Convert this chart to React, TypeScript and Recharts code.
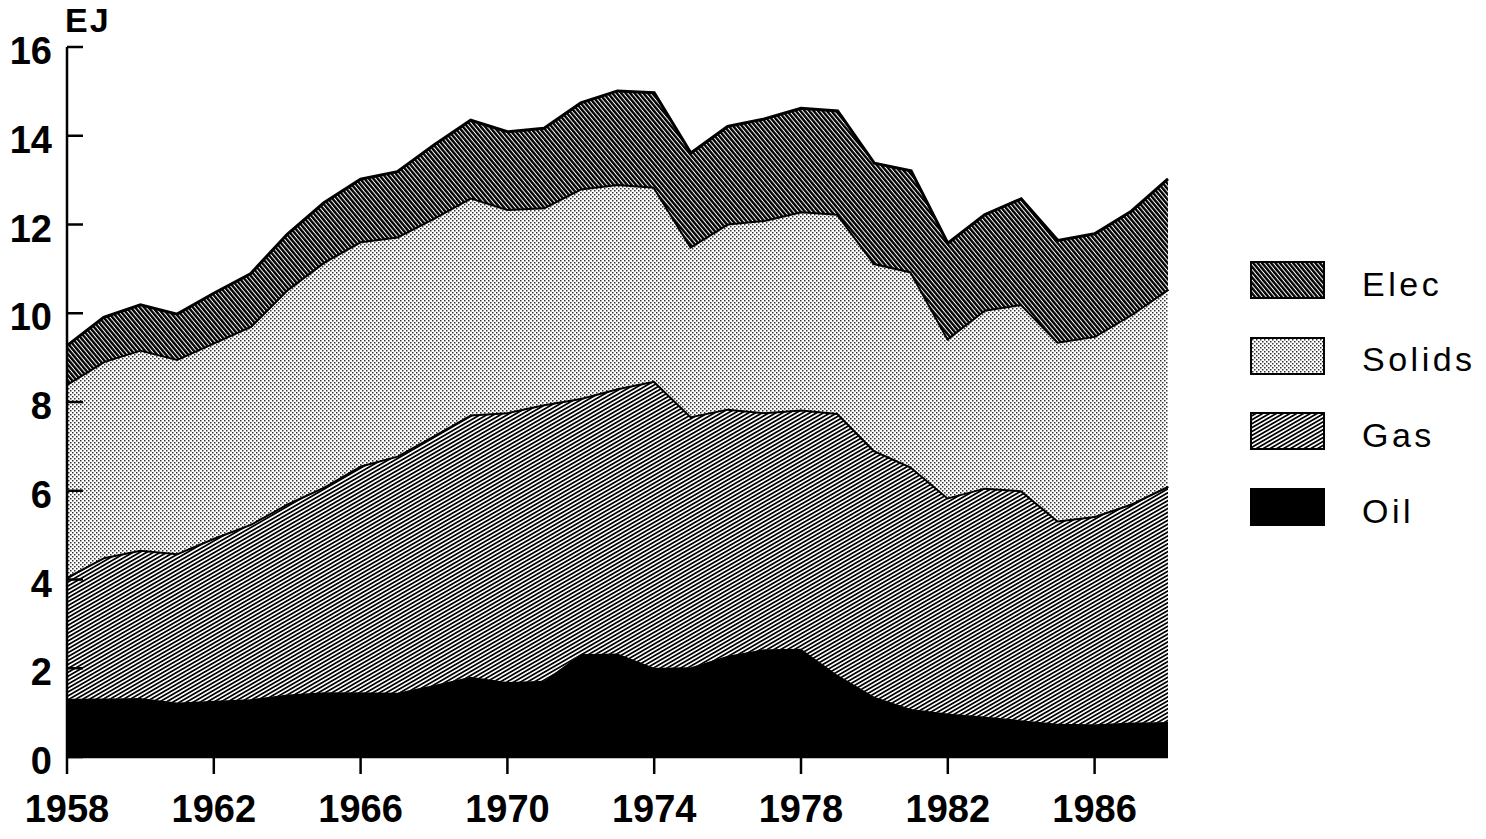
import React from 'react';
import { AreaChart, Area, XAxis, YAxis } from 'recharts';

// final energy use by fuel, EJ
const years = [
  1958, 1959, 1960, 1961, 1962, 1963, 1964, 1965, 1966, 1967, 1968,
  1969, 1970, 1971, 1972, 1973, 1974, 1975, 1976, 1977, 1978, 1979,
  1980, 1981, 1982, 1983, 1984, 1985, 1986, 1987, 1988,
];
const oil = [
  1.31, 1.32, 1.33, 1.23, 1.27, 1.3, 1.41, 1.46, 1.46, 1.45, 1.62,
  1.81, 1.69, 1.72, 2.32, 2.33, 2.01, 2.02, 2.28, 2.43, 2.44, 1.85,
  1.36, 1.08, 0.98, 0.91, 0.83, 0.75, 0.74, 0.78, 0.79,
];
const gas = [
  2.75, 3.18, 3.34, 3.36, 3.67, 3.95, 4.3, 4.63, 5.11, 5.34, 5.63,
  5.91, 6.08, 6.23, 5.77, 5.98, 6.47, 5.66, 5.57, 5.34, 5.39, 5.9,
  5.55, 5.46, 4.87, 5.16, 5.18, 4.58, 4.69, 4.93, 5.32,
];
const solids = [
  4.35, 4.42, 4.51, 4.38, 4.4, 4.46, 4.83, 5.07, 5.05, 4.94, 4.9,
  4.89, 4.58, 4.44, 4.72, 4.6, 4.37, 3.83, 4.17, 4.33, 4.47, 4.49,
  4.22, 4.4, 3.59, 4.01, 4.2, 4.03, 4.06, 4.27, 4.44,
];
const elec = [
  0.86, 0.99, 1.01, 1.01, 1.11, 1.18, 1.24, 1.33, 1.4, 1.46, 1.64,
  1.74, 1.74, 1.78, 1.93, 2.1, 2.12, 2.1, 2.19, 2.28, 2.32, 2.32,
  2.25, 2.27, 2.14, 2.14, 2.37, 2.28, 2.3, 2.32, 2.48,
];

const xTicks = [1958, 1962, 1966, 1970, 1974, 1978, 1982, 1986];
const yTicks = [0, 2, 4, 6, 8, 10, 12, 14, 16];
const unitLabel = 'EJ';

const legendItems = [
  { name: 'Elec', fill: 'url(#elecHatch)' },
  { name: 'Solids', fill: 'url(#solidsDots)' },
  { name: 'Gas', fill: 'url(#gasHatch)' },
  { name: 'Oil', fill: '#000' },
];

const data = years.map((year, i) => ({
  year,
  Oil: oil[i],
  Gas: gas[i],
  Solids: solids[i],
  Elec: elec[i],
}));

const FONT = "'Liberation Sans', Arial, sans-serif";
const black = { stroke: '#000', strokeWidth: 2.5 };

// tick label plus its mark; value-axis marks point into the plot
const YTick = (props: any) => {
  const { x, y, payload } = props;
  return (
    <g>
      <path d={`M${x + 15},${y}h16`} stroke="#000" strokeWidth={2.5} fill="none" />
      <text x={x} y={y + 4} textAnchor="end" dominantBaseline="central"
        fontSize={38} fontWeight="bold" fontFamily={FONT} fill="#000" stroke="none">
        {payload.value}
      </text>
    </g>
  );
};

const XTick = (props: any) => {
  const { x, y, payload } = props;
  return (
    <g>
      <path d={`M${x},${y}v17`} stroke="#000" strokeWidth={2.5} fill="none" />
      <text x={x} y={y + 52} textAnchor="middle" dominantBaseline="central"
        fontSize={38} fontWeight="bold" fontFamily={FONT} fill="#000" stroke="none">
        {payload.value}
      </text>
    </g>
  );
};

const Patterns = () => (
  <svg width={0} height={0} style={{ position: 'absolute' }}>
    <defs>
      <pattern id="elecHatch" patternUnits="userSpaceOnUse" width={8} height={3.4}
        patternTransform="rotate(50)">
        <rect width={8} height={3.4} fill="#000" />
        <rect width={8} height={1.0} fill="#fff" />
      </pattern>
      <pattern id="gasHatch" patternUnits="userSpaceOnUse" width={8} height={3.4}
        patternTransform="rotate(-30)">
        <rect width={8} height={3.4} fill="#fff" />
        <rect width={8} height={1.75} fill="#000" />
      </pattern>
      <pattern id="solidsDots" patternUnits="userSpaceOnUse" width={4} height={4}>
        <rect width={4} height={4} fill="#fff" />
        <rect x={0} y={0} width={1.5} height={1.5} fill="#333" />
        <rect x={2} y={2} width={1.5} height={1.5} fill="#333" />
      </pattern>
    </defs>
  </svg>
);

export default function App() {
  return (
    <div style={{ position: 'absolute', left: 0, top: 0, width: 1486, height: 839, background: '#fff', fontFamily: FONT }}>
      <Patterns />
      <div style={{ position: 'absolute', left: 65, top: 3, fontSize: 34, lineHeight: '34px', fontWeight: 'bold', letterSpacing: 2 }}>
        {unitLabel}
      </div>
      <AreaChart width={1486} height={839} data={data}
        margin={{ top: 47, right: 318, bottom: 0, left: 0 }}>
        <XAxis dataKey="year" type="number" domain={[1958, 1988]} ticks={xTicks}
          tick={XTick} tickLine={false} tickSize={0} tickMargin={0} height={82}
          axisLine={black} />
        <XAxis xAxisId="top" orientation="top" dataKey="year" type="number" domain={[1958, 1988]}
          tick={false} tickLine={false} height={0} axisLine={black} />
        <YAxis type="number" domain={[0, 16]} ticks={yTicks} width={67}
          tick={YTick} tickLine={false} tickSize={0} tickMargin={15}
          axisLine={black} />
        <YAxis yAxisId="right" orientation="right" type="number" domain={[0, 16]} width={0}
          tick={false} tickLine={false} axisLine={black} />
        <Area type="linear" dataKey="Oil" stackId="1" fill="#000" fillOpacity={1}
          stroke="#000" strokeWidth={1} isAnimationActive={false} dot={false} activeDot={false} />
        <Area type="linear" dataKey="Gas" stackId="1" fill="url(#gasHatch)" fillOpacity={1}
          stroke="#000" strokeWidth={4} isAnimationActive={false} dot={false} activeDot={false} />
        <Area type="linear" dataKey="Solids" stackId="1" fill="url(#solidsDots)" fillOpacity={1}
          stroke="#000" strokeWidth={4} isAnimationActive={false} dot={false} activeDot={false} />
        <Area type="linear" dataKey="Elec" stackId="1" fill="url(#elecHatch)" fillOpacity={1}
          stroke="#000" strokeWidth={3} isAnimationActive={false} dot={false} activeDot={false} />
      </AreaChart>
      <div style={{ position: 'absolute', left: 1250, top: 261 }}>
        {legendItems.map((item) => (
          <div key={item.name} style={{ display: 'flex', alignItems: 'center', height: 38, marginBottom: 37.7 }}>
            <svg width={75} height={38} style={{ display: 'block' }}>
              <rect x={1} y={1} width={73} height={36} fill={item.fill} stroke="#000" strokeWidth={2} />
            </svg>
            <span style={{ marginLeft: 37, fontSize: 34, letterSpacing: 3.5, position: 'relative', top: 4 }}>
              {item.name}
            </span>
          </div>
        ))}
      </div>
    </div>
  );
}
